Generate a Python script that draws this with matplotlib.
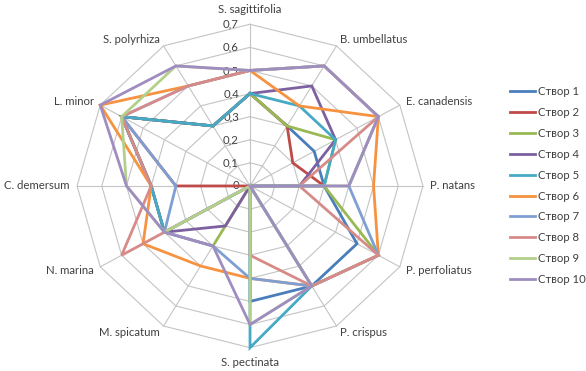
import numpy as np
import matplotlib.pyplot as plt

# categories clockwise from the top
categories = ['S. sagittifolia', 'B. umbellatus', 'E. canadensis', 'P. natans',
              'P. perfoliatus', 'P. crispus', 'S. pectinata', 'M. spicatum',
              'N. marina', 'C. demersum', 'L. minor', 'S. polyrhiza']

stvor_1 = [0.4, 0.3, 0.3, 0.3, 0.5, 0.5, 0.5, 0.0, 0.4, 0.4, 0.6, 0.3]
stvor_2 = [0.4, 0.3, 0.2, 0.3, 0.0, 0.0, 0.0, 0.0, 0.0, 0.3, 0.6, 0.3]
stvor_3 = [0.4, 0.3, 0.4, 0.3, 0.6, 0.5, 0.0, 0.3, 0.4, 0.4, 0.6, 0.3]
stvor_4 = [0.4, 0.5, 0.4, 0.2, 0.0, 0.0, 0.0, 0.2, 0.4, 0.4, 0.6, 0.3]
stvor_5 = [0.4, 0.4, 0.4, 0.3, 0.0, 0.5, 0.7, 0.0, 0.4, 0.4, 0.6, 0.3]
stvor_6 = [0.5, 0.4, 0.6, 0.5, 0.6, 0.5, 0.4, 0.4, 0.5, 0.4, 0.7, 0.5]
stvor_7 = [0.5, 0.6, 0.6, 0.4, 0.6, 0.5, 0.4, 0.3, 0.4, 0.3, 0.6, 0.5]
stvor_8 = [0.5, 0.6, 0.6, 0.2, 0.6, 0.5, 0.3, 0.0, 0.6, 0.4, 0.6, 0.5]
stvor_9 = [0.5, 0.6, 0.6, 0.4, 0.0, 0.5, 0.6, 0.0, 0.4, 0.5, 0.6, 0.6]
stvor_10 = [0.5, 0.6, 0.6, 0.4, 0.0, 0.5, 0.6, 0.3, 0.4, 0.5, 0.7, 0.6]

series_names = ['Створ %d' % i for i in range(1, 11)]
ticks = [0, 0.1, 0.2, 0.3, 0.4, 0.5, 0.6, 0.7]
tick_labels = ['0', '0,1', '0,2', '0,3', '0,4', '0,5', '0,6', '0,7']

colors = ['#4A7EBB', '#BE4B48', '#98B954', '#7D60A0', '#46AAC5',
          '#F69240', '#7E9FD3', '#D78B89', '#B3D08B', '#9F8DC1']

plt.rcParams['font.family'] = ['Lato', 'DejaVu Sans']
fs = 8.2

fig = plt.figure(figsize=(5.86, 3.71), dpi=100)
ax = fig.add_axes([0, 0, 1, 1])
ax.set_xlim(-1.012, 1.360)
ax.set_ylim(-0.801, 0.805)
ax.axis('off')

n = len(categories)
ang = np.arange(n) * 2 * np.pi / n
sx, sy = np.sin(ang), np.cos(ang)

# polygon grid
grid_c = '#C4C4C4'
for r in ticks[1:]:
    ax.plot(np.append(r * sx, r * sx[0]), np.append(r * sy, r * sy[0]),
            color=grid_c, lw=0.8, zorder=1)
for i in range(n):
    ax.plot([0, ticks[-1] * sx[i]], [0, ticks[-1] * sy[i]], color=grid_c, lw=0.8, zorder=1)

# value labels along the top spoke
for r, t in zip(ticks, tick_labels):
    ax.text(-0.045, r, t, ha='right', va='center', fontsize=fs, color='#404040', zorder=2)

# category labels
for i, name in enumerate(categories):
    if abs(sx[i]) < 0.01:
        ax.text(0, 0.765 * sy[i], name, ha='center', va='center', fontsize=fs, color='#404040')
    else:
        ha = 'left' if sx[i] > 0 else 'right'
        ax.text(0.73 * sx[i], 0.73 * sy[i], name, ha=ha, va='center', fontsize=fs, color='#404040')

all_series = [stvor_1, stvor_2, stvor_3, stvor_4, stvor_5,
              stvor_6, stvor_7, stvor_8, stvor_9, stvor_10]
for k, vals in enumerate(all_series):
    v = np.array(vals + vals[:1])
    ax.plot(v * np.append(sx, sx[0]), v * np.append(sy, sy[0]), color=colors[k],
            lw=2.0, solid_joinstyle='miter', label=series_names[k], zorder=3 + k)

leg = ax.legend(loc='upper left', bbox_to_anchor=(510 / 586, 1 - 86 / 371),
                bbox_transform=fig.transFigure, frameon=False, fontsize=fs,
                handlelength=2.2, handletextpad=0.25, labelspacing=0.87, borderpad=0,
                borderaxespad=0)
for t in leg.get_texts():
    t.set_color('#404040')

fig.savefig('out.png', dpi=100)
